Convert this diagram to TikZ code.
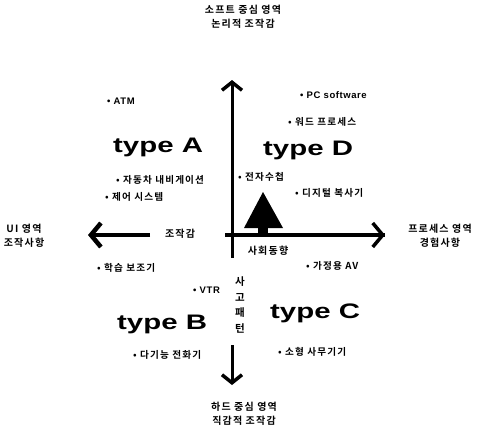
\documentclass[tikz,border=0pt]{standalone}
\usepackage{fontspec}
\usetikzlibrary{arrows.meta}
\setmainfont{Noto Sans CJK KR}
\newfontfamily\kr[LetterSpace=12]{Noto Sans CJK KR Bold}
\newfontfamily\lat[LetterSpace=6]{Liberation Sans}
\newfontfamily\typefont{Liberation Sans}
\begin{document}
\begin{tikzpicture}[x=1pt,y=-1pt,
  item/.style={anchor=west, inner sep=0pt, font=\kr\fontsize{9.6}{11}\selectfont},
  litem/.style={anchor=west, inner sep=0pt, font=\lat\bfseries\fontsize{9.5}{11}\selectfont},
  typelab/.style={anchor=base west, inner sep=0pt, font=\typefont\bfseries\fontsize{21}{21}\selectfont},
  edge/.style={align=center, inner sep=0pt, font=\kr\fontsize{10}{14}\selectfont},
  axlab/.style={inner sep=0pt, font=\kr\fontsize{10}{11}\selectfont},
  thin axis/.style={line width=3pt},
  barb/.style={-{Straight Barb[length=8pt,width=20pt,line width=3.5pt]}},
  bigbarb/.style={-{Straight Barb[length=10pt,width=24pt]}}
]
\useasboundingbox (0,0) rectangle (486,432);

% axis coordinates
\coordinate (ctr) at (232,235);
\coordinate (top) at (232,80);
\coordinate (hstart) at (225,235);
\coordinate (hend) at (385,235);
\coordinate (lstart) at (150,235);
\coordinate (lend) at (88,235);
\coordinate (stubend) at (232,258);
\coordinate (bstart) at (232,345);
\coordinate (bend) at (232,385);

% edge labels
\node[edge] (topl) at (243,17) {소프트 중심 영역\\논리적 조작감};
\node[edge] (leftl) at (24,236) {UI 영역\\조작사항};
\node[edge] (rightl) at (440,236) {프로세스 영역\\경험사항};
\node[edge] (botl) at (244,414) {하드 중심 영역\\직감적 조작감};

% axes
\draw[thin axis, barb] (ctr) -- (top);
\draw[line width=3.5pt] (hstart) -- (hend);
\draw[line width=3.5pt, bigbarb] (ctr) -- (hend);
\draw[line width=4.5pt, bigbarb] (lstart) -- (lend);
\draw[thin axis] (ctr) -- (stubend);
\draw[thin axis, barb] (bstart) -- (bend);

% axis labels
\node[axlab] (jojak) at (180,234) {조작감};
\node[axlab] (sahoe) at (268,251) {사회동향};
\node[axlab, align=center, font=\kr\fontsize{10.5}{15.5}\selectfont] (sago) at (240,305) {사\\고\\패\\턴};

% triangle
\fill (263,192) -- (283,228) -- (244,228) -- cycle;
\fill (258,226) rectangle (268,235);

% type A
\node[litem] (atm) at (107,101) {• ATM};
\node[typelab] (ta) at (113,152) {\scalebox{1.4}[1]{type A}};
\node[item] (nav) at (116,180) {• 자동차 내비게이션};
\node[item] (ctl) at (105,197) {• 제어 시스템};

% type D
\node[litem] (pc) at (300,95) {• PC software};
\node[item] (word) at (288,122) {• 워드 프로세스};
\node[typelab] (td) at (263,155) {\scalebox{1.4}[1]{type D}};
\node[item] (diary) at (238,177) {• 전자수첩};
\node[item] (copy) at (295,193) {• 디지털 복사기};

% type B
\node[item] (rec) at (97,268) {• 학습 보조기};
\node[litem] (vtr) at (193,290) {• VTR};
\node[typelab] (tb) at (117,329) {\scalebox{1.4}[1]{type B}};
\node[item] (phone) at (133,355) {• 다기능 전화기};

% type C
\node[item] (av) at (306,266) {• 가정용 AV};
\node[typelab] (tc) at (270,318) {\scalebox{1.4}[1]{type C}};
\node[item] (office) at (278,352) {• 소형 사무기기};
\end{tikzpicture}
\end{document}
